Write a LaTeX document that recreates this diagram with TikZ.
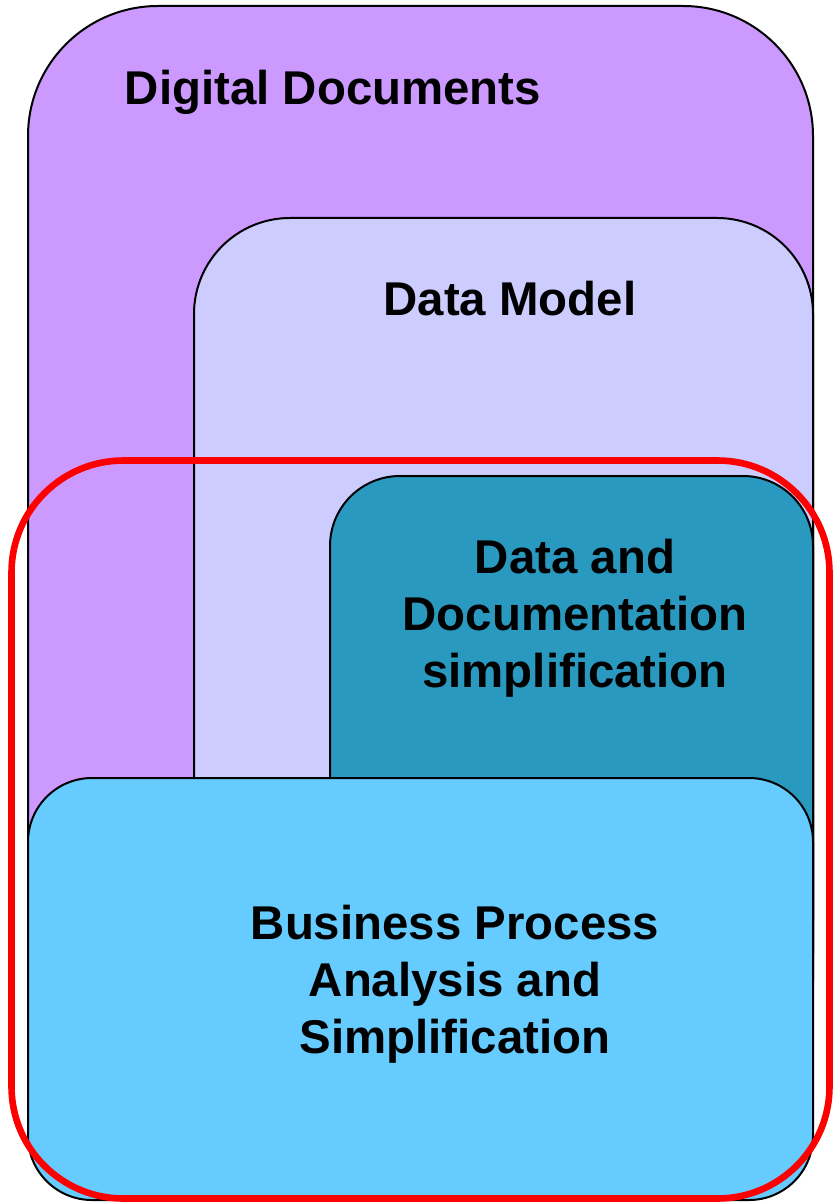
\documentclass[tikz,border=0pt]{standalone}
\usepackage{fontspec}
\setmainfont{Liberation Sans}
\definecolor{violetfill}{RGB}{204,153,255}
\definecolor{lavenderfill}{RGB}{204,204,255}
\definecolor{tealfill}{RGB}{42,153,192}
\definecolor{skyfill}{RGB}{102,204,255}
\begin{document}
\begin{tikzpicture}[x=0.5pt,y=-0.5pt,
  region/.style={draw=black, line width=1pt},
  caption/.style={font=\bfseries\fontsize{23.7}{28.5}\selectfont,
    align=center, anchor=base, inner sep=0pt}]
\useasboundingbox (0,0) rectangle (834,1203);
% nested areas, outermost first
\path[region, fill=violetfill, rounded corners=65pt] (28,6) rectangle (813,1050);
\path[region, fill=lavenderfill, rounded corners=48pt] (194,218) rectangle (813,1050);
\path[region, fill=tealfill, rounded corners=35pt] (330,476) rectangle (813,1050);
\path[region, fill=skyfill, rounded corners=32pt] (28,778) rectangle (813,1200);
% highlighted group
\draw[red, line width=3.3pt, rounded corners=56pt] (11.5,460.5) rectangle (829.5,1198.5);
% captions (base anchor sits on the last line)
\node[caption] (digital) at (333,105) {Digital Documents};
\node[caption] (model) at (510,315) {Data Model};
\node[caption] (simpl) at (575,687) {Data and\\Documentation\\simplification};
\node[caption] (process) at (455,1053) {Business Process\\Analysis and\\Simplification};
\end{tikzpicture}
\end{document}
